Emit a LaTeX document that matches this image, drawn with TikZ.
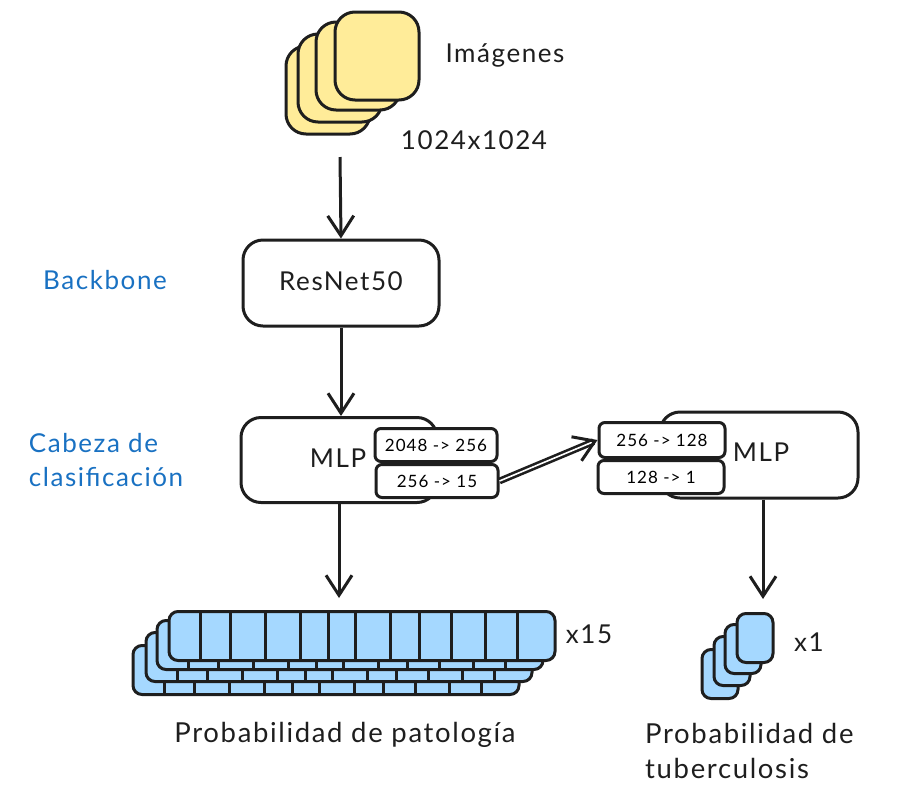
\documentclass[tikz,border=0pt]{standalone}
\usepackage{fontspec}
\setmainfont{Lato}[LetterSpace=6]
\usepackage{tikz}
\usetikzlibrary{arrows.meta}
\definecolor{trazo}{HTML}{1E1E1E}
\definecolor{amarillo}{HTML}{FFEC99}
\definecolor{celeste}{HTML}{A5D8FF}
\definecolor{azul}{HTML}{1971C2}
\tikzset{
  caja/.style={draw=trazo,line width=3pt,fill=white,rounded corners=20pt,inner sep=0pt},
  imagen/.style={caja,fill=amarillo,minimum width=84pt,minimum height=88pt},
  barra/.style={caja,fill=celeste,rounded corners=9pt,minimum width=386pt,minimum height=49pt},
  salida/.style={caja,fill=celeste,rounded corners=9pt,minimum width=36pt,minimum height=49pt},
  capa/.style={caja,rounded corners=6pt,minimum width=122pt,minimum height=33pt,font=\fontsize{17}{20}\selectfont},
  texto/.style={text=trazo,inner sep=0pt,align=left,font=\fontsize{26}{34.5}\selectfont},
  textogr/.style={texto,font=\fontsize{27.5}{34.5}\selectfont},
  rotulo/.style={texto,text=azul},
  flecha/.style={draw=trazo,line width=3pt,-{Straight Barb[length=20pt,width=26pt,line width=3pt]}}
}
\begin{document}
\begin{tikzpicture}[x=1pt,y=-1pt]
  \useasboundingbox (0,0) rectangle (899,804);

  % pila de imagenes
  \node[imagen] (ima4) at (328,90) {};
  \node[imagen] (ima3) at (340,78) {};
  \node[imagen] (ima2) at (358,66) {};
  \node[imagen] (ima1) at (377,56) {};
  \node[texto] (tima) at (505,55) {Imágenes};
  \node[texto] (tdim) at (474,140) {1024x1024};
  \coordinate (inicio) at (340,157);

  \node[caja,minimum width=196pt,minimum height=86pt] (resnet) at (341,283) {};
  \node[texto] (tres) at (341,281) {ResNet50};
  \node[rotulo] (tback) at (105,280) {Backbone};
  \node[rotulo] (tcab) at (106,460) {Cabeza de\\clasificación};

  % cabezas
  \node[caja,minimum width=196pt,minimum height=85pt] (mlpa) at (339,460) {};
  \node[texto] at (338,458) (tmlpa) {MLP};
  \node[capa] (a1) at (436,445) {2048 -> 256};
  \node[capa] (a2) at (437,481) {256 -> 15};

  \node[caja,minimum width=198pt,minimum height=86pt] (mlpb) at (759,455) {};
  \node[texto] at (761,452) (tmlpb) {MLP};
  \node[capa,minimum width=126pt,minimum height=35pt] (b1) at (662,440) {256 -> 128};
  \node[capa,minimum width=126pt,minimum height=33pt] (b2) at (661,477) {128 -> 1};

  % salidas con sus celdas
  \foreach \nb/\px/\py in {4/326/670,3/339/657,2/350/645,1/362/636}{
    \node[barra] (bar\nb) at (\px,\py) {};
    \foreach \t in {33,63,98,133,161,188,223,252,284,318,350}
      \draw[draw=trazo,line width=2.4pt] ([xshift=\t pt]bar\nb.north west) -- ([xshift=\t pt]bar\nb.south west);
  }

  \node[salida] (sal4) at (720,674) {};
  \node[salida] (sal3) at (732,661) {};
  \node[salida] (sal2) at (743,649) {};
  \node[salida] (sal1) at (755,638) {};

  \node[texto] (tx15) at (589,634) {x15};
  \node[texto] (tx1) at (809,642) {x1};
  \node[textogr] (tpat) at (345,735) {Probabilidad de patología};
  \node[textogr,anchor=west] (ttub) at (645,751) {Probabilidad de\\tuberculosis};

  % conexiones
  \draw[flecha] (inicio) -- (resnet.north);
  \draw[flecha] (resnet.south) -- (resnet.south |- mlpa.north);
  \draw[flecha,shorten >=12pt] (mlpa.south) -- (mlpa.south |- bar1.north);
  \draw[flecha,shorten >=13pt] ([xshift=4pt]mlpb.south) -- ([xshift=4pt]mlpb.south |- sal1.north);
  \draw[flecha,double,double distance=1.6pt,line width=2.6pt] (a2.east) -- (b1.west);
\end{tikzpicture}
\end{document}
